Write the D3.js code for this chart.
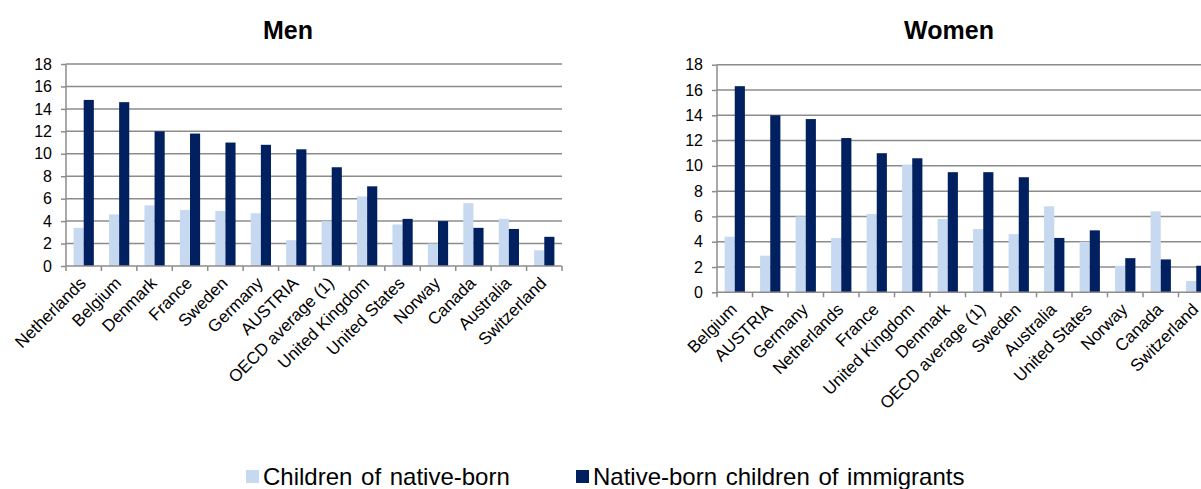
<!DOCTYPE html>
<html>
<head>
<meta charset="utf-8">
<script src="https://cdn.jsdelivr.net/npm/d3@7"></script>
<style>
  body { margin: 0; background: #fff; }
  svg { display: block; font-family: "Liberation Sans", Arial, sans-serif; }
  .grid line { stroke: #8c8c8c; stroke-width: 1.5; }
  .axis path, .axis line { stroke: #8c8c8c; stroke-width: 1.5; }
</style>
</head>
<body>
<div id="holder"></div>
<script>
// data
const menCategories = ["Netherlands", "Belgium", "Denmark", "France", "Sweden", "Germany", "AUSTRIA",
  "OECD average (1)", "United Kingdom", "United States", "Norway", "Canada", "Australia", "Switzerland"];
const menNative = [3.4, 4.6, 5.4, 5.0, 4.9, 4.7, 2.3, 4.0, 6.2, 3.7, 2.0, 5.6, 4.2, 1.4];
const menImmigrant = [14.8, 14.6, 12.0, 11.8, 11.0, 10.8, 10.4, 8.8, 7.1, 4.2, 4.0, 3.4, 3.3, 2.6];

const womenCategories = ["Belgium", "AUSTRIA", "Germany", "Netherlands", "France", "United Kingdom", "Denmark",
  "OECD average (1)", "Sweden", "Australia", "United States", "Norway", "Canada", "Switzerland"];
const womenNative = [4.4, 2.9, 6.0, 4.3, 6.2, 10.1, 5.8, 5.0, 4.6, 6.8, 4.0, 2.1, 6.4, 0.9];
const womenImmigrant = [16.3, 14.0, 13.7, 12.2, 11.0, 10.6, 9.5, 9.5, 9.1, 4.3, 4.9, 2.7, 2.6, 2.1];

const yTicks = [0, 2, 4, 6, 8, 10, 12, 14, 16, 18];
const seriesNames = ["Children of native-born", "Native-born children of immigrants"];
const colors = ["#c6d9f1", "#002060"];

const w = 1201;
const h = 489;

let svg = d3.select("#holder")
  .append("svg")
  .attr("width", w)
  .attr("height", h);

function drawPanel(title, titleX, cats, native, immig, x0, x1, y0, y1) {
  let g = svg.append("g");

  let xScale = d3.scaleBand()
    .domain(cats)
    .range([x0, x1]);

  let yScale = d3.scaleLinear()
    .domain([0, 18])
    .range([y1, y0]);

  // sub band for the two series (gap width ~150%)
  let sub = d3.scaleBand()
    .domain([0, 1])
    .range([0, xScale.bandwidth()])
    .paddingOuter(0.75)
    .paddingInner(0);

  // gridlines
  g.append("g")
    .attr("class", "grid")
    .selectAll("line")
    .data(yTicks.filter(t => t > 0))
    .enter()
    .append("line")
    .attr("x1", x0)
    .attr("x2", x1)
    .attr("y1", d => yScale(d))
    .attr("y2", d => yScale(d));

  // bars
  let rows = cats.map((c, i) => ({ cat: c, vals: [native[i], immig[i]] }));
  let groups = g.selectAll(".cat")
    .data(rows)
    .enter()
    .append("g")
    .attr("transform", d => "translate(" + xScale(d.cat) + ",0)");

  groups.selectAll("rect")
    .data(d => d.vals)
    .enter()
    .append("rect")
    .attr("x", (d, i) => sub(i))
    .attr("width", sub.bandwidth())
    .attr("y", d => yScale(d))
    .attr("height", d => yScale(0) - yScale(d))
    .attr("fill", (d, i) => colors[i]);

  // y axis
  const yAxis = d3.axisLeft(yScale)
    .tickValues(yTicks)
    .tickSize(5)
    .tickPadding(9);
  let ya = g.append("g")
    .attr("class", "axis")
    .attr("transform", "translate(" + x0 + ",0)")
    .call(yAxis);
  ya.select(".domain").attr("d", "M0," + y1 + "V" + y0);
  ya.selectAll("text")
    .attr("font-size", 16)
    .attr("font-family", "Liberation Sans, Arial, sans-serif")
    .attr("fill", "#000");

  // x axis line + ticks at category edges
  let xa = g.append("g").attr("class", "axis");
  xa.append("line")
    .attr("x1", x0).attr("x2", x1)
    .attr("y1", y1).attr("y2", y1);
  let edges = cats.map(c => xScale(c)).concat([x1]);
  xa.selectAll(".tk")
    .data(edges)
    .enter()
    .append("line")
    .attr("x1", d => d).attr("x2", d => d)
    .attr("y1", y1).attr("y2", y1 + 5);

  // rotated category labels
  g.selectAll(".lbl")
    .data(cats)
    .enter()
    .append("text")
    .attr("text-anchor", "end")
    .attr("font-size", 17)
    .attr("dy", "0.35em")
    .attr("transform", d => "translate(" + (xScale(d) + xScale.bandwidth() / 2 - 1) + "," + (y1 + 14) + ") rotate(-45)")
    .text(d => d);

  // title
  svg.append("text")
    .attr("x", titleX)
    .attr("y", 39)
    .attr("text-anchor", "middle")
    .attr("font-size", 25)
    .attr("font-weight", "bold")
    .text(title);
}

drawPanel("Men", 288, menCategories, menNative, menImmigrant, 66, 562, 64, 266);
drawPanel("Women", 949, womenCategories, womenNative, womenImmigrant, 717, 1214, 64.7, 292.3);

// legend
let legend = svg.append("g");
const legendX = [246, 576];
seriesNames.forEach((s, i) => {
  legend.append("rect")
    .attr("x", legendX[i])
    .attr("y", 470)
    .attr("width", 13)
    .attr("height", 13)
    .attr("fill", colors[i]);
  legend.append("text")
    .attr("x", legendX[i] + 17)
    .attr("y", 485)
    .attr("font-size", 24)
    .attr("word-spacing", 2)
    .text(s);
});
</script>
</body>
</html>
